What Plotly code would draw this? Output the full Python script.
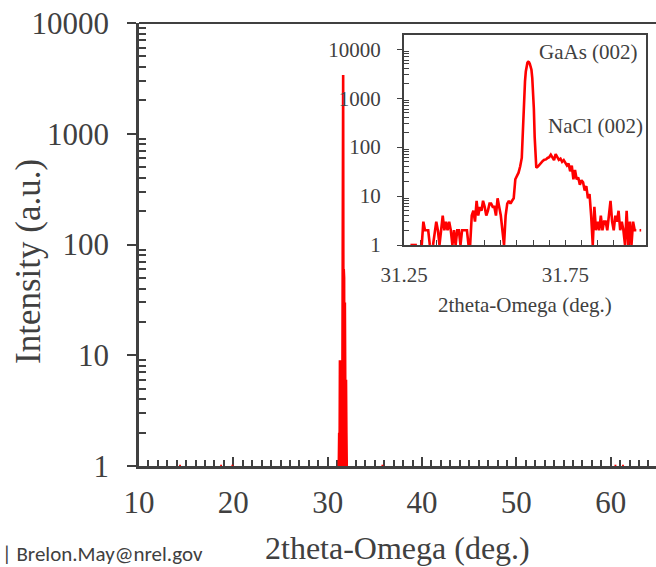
import plotly.graph_objects as go

# ---------------- data ----------------
# main scan (2theta, counts); None = zero counts (not drawable on log axis)
main_x = [14.25, 14.45, None, 18.6, 18.8, None, 19.8, 20.0, None,
          31.18, 31.22, 31.26, 31.30, 31.34, 31.38, 31.42, 31.46, 31.50, 31.54,
          31.58, 31.62, 31.64, 31.66, 31.70, 31.74, 31.78, 31.82, 31.86, 31.90,
          31.94, 31.98, 32.02, None, 35.7, 35.9, None, 60.4, 60.6, None, 61.2, 61.4]
main_y = [1, 1, None, 1, 1, None, 1, 1, None,
          1, 2, 1, 9, 4, 6, 1, 5, 8, 1,
          25, 900, 3400, 40, 60, 50, 1, 30, 6, 4,
          6, 2, 1, None, 1, 1, None, 1, 1, None, 1, 1]

# inset: high-resolution scan around GaAs (002) / NaCl (002)
inset_start = 31.25
inset_step = 0.005
counts_low = [None, None, None, None, 1, 1, 1, 1, 1, None,
              None, 1, 3, 2, 2, 2, 1, None, 1, 2,
              3, 2, 1, 2, 4, 2, 3, 2, 3, 2,
              1, 2, 1, 2, 2, 1, 2, 2, 2, 2,
              1, 1, 4, 5, 3, 8, 4, 6, 5, 8,
              6, 4, 5, 7, 7, 6, 6, 4, 9, 6,
              4, 2, 1, 4, 7, 8, 7, 8, 9, 22]
peak_x = [31.600, 31.605, 31.610, 31.6125, 31.615, 31.6175, 31.620, 31.6225,
          31.625, 31.6275, 31.630, 31.6325, 31.635, 31.6375, 31.640, 31.6425,
          31.645, 31.6475, 31.650, 31.6525, 31.655, 31.6575, 31.660, 31.665]
peak_y = [25, 30, 40, 46, 60, 150, 450, 1100,
          2200, 3500, 4600, 5300, 5500, 5400, 5000, 4500,
          3800, 2600, 1400, 600, 160, 50, 38, 40]
high_start = 31.670
counts_high = [44, 48, 52, 55, 56, 60, 62, 70, 60, 54,
               72, 62, 55, 58, 50, 54, 46, 42, 46, 32,
               42, 22, 34, 22, 24, 17, 21, 19, 13, 16,
               9, 11, 4, 1, 6, 2, 3, 2, 4, 2,
               3, 3, 2, 4, 8, 3, 2, 4, 3, 5,
               2, 3, 2, 1, 5, 1, 3, 1, 3, 2,
               2, None, 2, 2, None, None, 1, 1, 1]

main_y_ticks = [1, 10, 100, 1000, 10000]
main_x_ticks = [10, 20, 30, 40, 50, 60]
inset_x_ticks = [31.25, 31.75]

# ---------------- build ----------------
inset_x = ([round(inset_start + inset_step * i, 4) for i in range(len(counts_low))]
           + peak_x
           + [round(high_start + inset_step * i, 4) for i in range(len(counts_high))])
inset_y = counts_low + peak_y + counts_high

AX = '#404040'
TXT = '#404040'
SERIF = 'Liberation Serif, Times New Roman, serif'

L, R, T, B = 139, 0, 23, 101
W, H = 656, 567
PW, PH = W - L - R, H - T - B

def px(x):
    return (x - L) / PW

def py(y):
    return (H - B - y) / PH

minor_log = [m * 10 ** e for e in range(5) for m in range(2, 10)]

fig = go.Figure()
fig.add_trace(go.Scatter(x=main_x, y=main_y, mode='lines',
                         line=dict(color='#FF0000', width=2.6),
                         connectgaps=False, xaxis='x', yaxis='y', showlegend=False))
fig.add_trace(go.Scatter(x=inset_x, y=inset_y, mode='lines',
                         line=dict(color='#FF0000', width=2.6),
                         connectgaps=False, xaxis='x2', yaxis='y2', showlegend=False,
                         cliponaxis=False))

fig.update_layout(
    width=W, height=H,
    margin=dict(l=L, r=R, t=T, b=B, pad=0),
    paper_bgcolor='white', plot_bgcolor='white',
    font=dict(family=SERIF, color=TXT),
    xaxis=dict(range=[10, 64.8], showline=True, linewidth=2.5, linecolor=AX,
               showgrid=False, zeroline=False, layer='below traces',
               tickmode='array', tickvals=main_x_ticks,
               ticks='inside', ticklen=9, tickwidth=1.5, tickcolor=AX,
               tickfont=dict(size=31, color=TXT), ticklabelstandoff=7,
               minor=dict(dtick=1, tick0=10, ticks='inside', ticklen=6,
                          tickwidth=1.5, tickcolor=AX, showgrid=False)),
    yaxis=dict(type='log', range=[0, 4], showline=True, linewidth=2.5, linecolor=AX,
               showgrid=False, zeroline=False, layer='below traces',
               tickmode='array', tickvals=main_y_ticks,
               ticktext=[str(v) for v in main_y_ticks],
               ticks='outside', ticklen=9, tickwidth=1.5, tickcolor=AX,
               tickfont=dict(size=31, color=TXT), ticklabelstandoff=12,
               minor=dict(tickmode='array', tickvals=minor_log, ticks='inside',
                          ticklen=7, tickwidth=1.5, tickcolor=AX, showgrid=False)),
    xaxis2=dict(domain=[px(404), px(646)], anchor='y2', range=[31.25, 32.0],
                showline=True, mirror=True, linewidth=2, linecolor=AX,
                showgrid=False, zeroline=False, layer='below traces',
                tickmode='array', tickvals=inset_x_ticks,
                ticktext=['31.25', '31.75'],
                ticks='inside', ticklen=5, tickwidth=1.2, tickcolor=AX,
                tickfont=dict(size=21, color=TXT), ticklabelstandoff=10,
                minor=dict(dtick=0.05, tick0=31.25, ticks='inside', ticklen=5,
                           tickwidth=1.2, tickcolor=AX, showgrid=False)),
    yaxis2=dict(domain=[py(245), py(35)], anchor='x2', type='log', range=[0, 4.29],
                showline=True, mirror=True, linewidth=2, linecolor=AX,
                showgrid=False, zeroline=False, layer='below traces',
                tickmode='array', tickvals=main_y_ticks,
                ticktext=[str(v) for v in main_y_ticks],
                ticks='outside', ticklen=5, tickwidth=1.2, tickcolor=AX,
                tickfont=dict(size=21, color=TXT), ticklabelstandoff=12,
                minor=dict(tickmode='array', tickvals=minor_log, ticks='inside',
                           ticklen=5, tickwidth=1.2, tickcolor=AX, showgrid=False)),
    shapes=[dict(type='line', xref='paper', yref='paper', x0=0, x1=1, y0=1, y1=1,
                 line=dict(color=AX, width=2))],
    annotations=[
        dict(text='2theta-Omega (deg.)', xref='paper', yref='paper',
             x=px(397), y=py(548), xanchor='center', yanchor='middle',
             showarrow=False, font=dict(size=32, color=TXT, family=SERIF)),
        dict(text='Intensity (a.u.)', xref='paper', yref='paper',
             x=px(28), y=py(262), xanchor='center', yanchor='middle', textangle=-90,
             showarrow=False, font=dict(size=35, color=TXT, family=SERIF)),
        dict(text='2theta-Omega (deg.)', xref='paper', yref='paper',
             x=px(525), y=py(305), xanchor='center', yanchor='middle',
             showarrow=False, font=dict(size=21, color=TXT, family=SERIF)),
        dict(text='GaAs (002)', xref='paper', yref='paper',
             x=px(588), y=py(52), xanchor='center', yanchor='middle',
             showarrow=False, font=dict(size=21, color=TXT, family=SERIF)),
        dict(text='NaCl (002)', xref='paper', yref='paper',
             x=px(595.5), y=py(126), xanchor='center', yanchor='middle',
             showarrow=False, font=dict(size=21, color=TXT, family=SERIF)),
        dict(text='| Brelon.May@nrel.gov', xref='paper', yref='paper',
             x=px(0), y=py(554), xanchor='left', yanchor='middle',
             showarrow=False, font=dict(size=21, color='#404040', family='Carlito, Lato, sans-serif')),
    ],
)

fig.write_html('out.html', config={'displayModeBar': False},
               post_script="document.body.style.margin='0px';document.body.style.overflow='hidden';")
